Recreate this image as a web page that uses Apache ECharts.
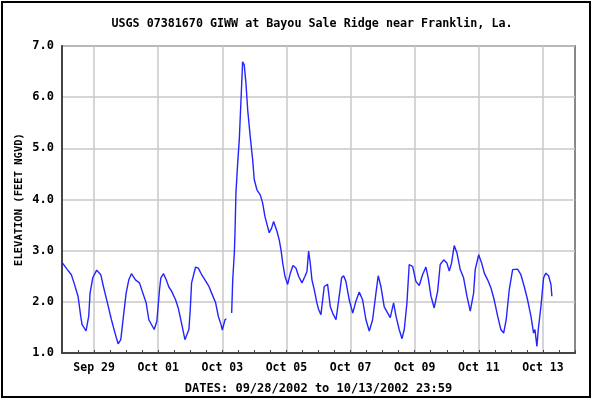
<!DOCTYPE html>
<html>
<head>
<meta charset="utf-8">
<script src="https://cdn.jsdelivr.net/npm/echarts@6/dist/echarts.min.js"></script>
<style>
  html, body { margin: 0; padding: 0; background: #fff; }
  #main { width: 593px; height: 400px; }
</style>
</head>
<body>
<div id="main"></div>
<script>
// hours since 09/28/2002 00:00
const hours = [
  0, 4, 7, 9, 12, 14, 15, 18, 20, 21, 23, 26, 29, 31, 34, 37, 40, 42, 44, 46,
  48, 50, 52, 55, 58, 60, 63, 65, 69, 71, 73, 74, 76, 78, 80, 82, 85, 87, 90, 92,
  95, 96, 97, 100, 102, 105, 107, 110, 112, 115, 116, 117, 119, 120, 122, 123,
  125,
  127, 127.8, 129, 129.5, 130.2, 131.5, 132.7, 134, 135.2, 136.4, 137.7, 139, 140.9,
  142.7, 143.9, 145.9, 148.4, 150.2, 151.9, 153.9, 155.1, 156.9, 158.4, 159.4, 160.9,
  162.6, 163.9, 165.2, 166.9, 168.9, 170.9, 172.9, 175.1, 177.1, 179.6, 181.9, 183.4,
  184.6, 185.8, 187.1, 188.8, 190.8, 192.1, 193.8, 196.3, 198.8, 200.8, 202.6, 205.1,
  207.5, 209.3, 210.8, 212.5, 215, 217.6, 220, 222.5, 225, 227.5, 230, 232.5, 235,
  236.7, 238.7, 241.2, 243.8, 245.7, 248.2, 250, 252.4, 254.5, 256.2, 258.2, 259.9,
  262.5, 264.9, 267.4, 269.9, 272.4, 274.1, 276.2, 278.6, 281.2, 283.1, 285.7, 288.1,
  289.9, 291.6, 293.6, 295.6, 298.1, 300.6, 303.1, 305.6, 308.1, 309.3, 311.9, 314.1,
  316.1, 318.6, 321.1, 323.5, 326.1, 328.5, 330.6, 332.5, 334.8, 337.3, 341, 343.5,
  346, 348.5, 351, 353, 354, 355.5, 356.5, 358.5, 360.5, 362.2, 364.2, 366, 366.7
];
// elevation, feet NGVD (null = missing record)
const stage = [
  2.77, 2.63, 2.53, 2.37, 2.11, 1.72, 1.56, 1.43, 1.72, 2.17, 2.47, 2.62, 2.53, 2.30, 1.98, 1.65, 1.36, 1.18, 1.26, 1.72,
  2.17, 2.43, 2.55, 2.43, 2.37, 2.21, 1.98, 1.65, 1.46, 1.62, 2.24, 2.47, 2.55, 2.43, 2.29, 2.21, 2.04, 1.88, 1.52, 1.26,
  1.46, 1.85, 2.37, 2.68, 2.66, 2.51, 2.43, 2.30, 2.17, 1.98, 1.85, 1.72, 1.56, 1.45, 1.65, 1.67,
  null,
  1.78, 2.43, 2.96, 3.35, 4.13, 4.71, 5.17, 5.95, 6.69, 6.63, 6.27, 5.75, 5.23,
  4.78, 4.39, 4.19, 4.09, 3.93, 3.67, 3.47, 3.35, 3.44, 3.57, 3.54, 3.38,
  3.21, 3.02, 2.76, 2.50, 2.34, 2.56, 2.71, 2.66, 2.50, 2.37, 2.50, 2.60,
  2.99, 2.76, 2.43, 2.24, 1.98, 1.85, 1.75, 2.30, 2.34, 1.91, 1.78, 1.65,
  2.11, 2.47, 2.51, 2.40, 2.04, 1.78, 2.01, 2.19, 2.04, 1.65, 1.43, 1.65, 2.17,
  2.51, 2.30, 1.90, 1.78, 1.69, 1.98, 1.72, 1.46, 1.28, 1.46, 1.98, 2.73,
  2.69, 2.40, 2.32, 2.53, 2.68, 2.47, 2.11, 1.88, 2.21, 2.73, 2.82, 2.76,
  2.60, 2.76, 3.10, 2.96, 2.63, 2.47, 2.11, 1.82, 2.17, 2.63, 2.92, 2.76,
  2.56, 2.43, 2.27, 2.04, 1.72, 1.46, 1.39, 1.65, 2.24, 2.63, 2.64, 2.53,
  2.30, 2.04, 1.72, 1.39, 1.46, 1.13, 1.46, 1.91, 2.47, 2.56, 2.51, 2.34, 2.11
];
// labelled gridlines (hours since start) and their labels
const dateTicks = [24, 72, 120, 168, 216, 264, 312, 360];
const dateLabels = ['Sep 29', 'Oct 01', 'Oct 03', 'Oct 05', 'Oct 07', 'Oct 09', 'Oct 11', 'Oct 13'];

const font = 'DejaVu Sans Mono';
const chart = echarts.init(document.getElementById('main'));

chart.setOption({
  animation: false,
  backgroundColor: '#fff',
  title: {
    text: 'USGS 07381670 GIWW at Bayou Sale Ridge near Franklin, La.',
    left: 307,
    top: 13,
    textAlign: 'center',
    textStyle: { fontFamily: font, fontSize: 11.7, fontWeight: 'bold', color: '#000' }
  },
  graphic: [{
    type: 'rect',
    shape: { x: 2, y: 2, width: 588, height: 395 },
    style: { fill: 'none', stroke: '#000', lineWidth: 2 },
    silent: true
  }],
  grid: {
    left: 62, right: 18, top: 46, bottom: 46,
    show: true, borderColor: '#888', borderWidth: 2
  },
  xAxis: [{
    type: 'value',
    min: 0, max: 384, interval: 12,
    name: 'DATES: 09/28/2002 to 10/13/2002 23:59',
    nameLocation: 'middle',
    nameGap: 30,
    nameTextStyle: { fontFamily: font, fontSize: 12, fontWeight: 'bold', color: '#000' },
    axisLine: { lineStyle: { color: '#444', width: 2 } },
    axisTick: { inside: true, length: 3, lineStyle: { color: '#444' } },
    axisLabel: {
      customValues: dateTicks,
      margin: 9,
      fontFamily: font, fontSize: 11.5, fontWeight: 'bold', color: '#000',
      formatter: v => dateLabels[dateTicks.indexOf(v)]
    },
    splitLine: { show: false }
  }, {
    type: 'value',
    position: 'bottom',
    min: 0, max: 384,
    axisLine: { show: false },
    axisTick: { show: false, customValues: dateTicks },
    axisLabel: { show: false },
    splitLine: { show: true, lineStyle: { color: '#c8c8c8', width: 1.5 } }
  }],
  yAxis: {
    type: 'value',
    min: 1, max: 7, interval: 1,
    name: 'ELEVATION (FEET NGVD)',
    nameLocation: 'middle',
    nameGap: 37,
    nameMoveOverlap: false,
    nameTextStyle: { fontFamily: font, fontSize: 10.5, fontWeight: 'bold', color: '#000' },
    axisLine: { show: true, lineStyle: { color: '#444', width: 2 } },
    axisTick: { show: false },
    axisLabel: {
      margin: 8,
      fontFamily: font, fontSize: 12, fontWeight: 'bold', color: '#000',
      formatter: v => v.toFixed(1)
    },
    splitLine: { lineStyle: { color: '#c8c8c8', width: 1.5 } }
  },
  series: [{
    type: 'line',
    xAxisIndex: 0,
    data: hours.map((h, i) => [h, stage[i]]),
    showSymbol: false,
    connectNulls: false,
    lineStyle: { color: '#2424ff', width: 1.4 }
  }]
});
</script>
</body>
</html>
